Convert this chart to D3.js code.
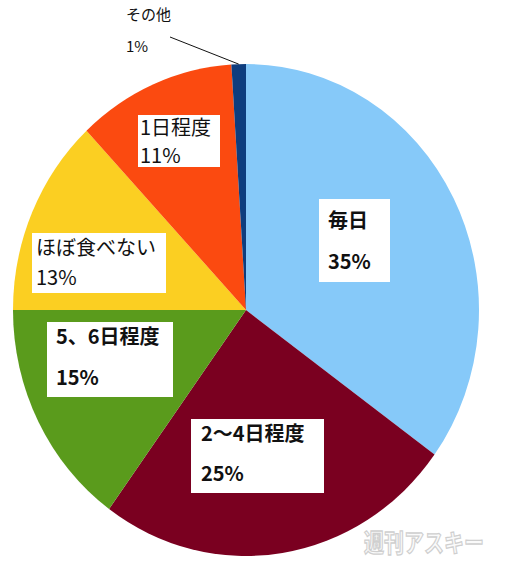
<!DOCTYPE html>
<html><head><meta charset="utf-8">
<script src="https://cdn.jsdelivr.net/npm/d3@7"></script>
<style>
html,body{margin:0;padding:0;background:#fff;}
svg{display:block;}
text{font-family:"Noto Sans CJK JP","Noto Sans",sans-serif;fill:#111;}
</style></head>
<body>
<script>
// ---- data ----
const categories = ["毎日", "2～4日程度", "5、6日程度", "ほぼ食べない", "1日程度", "その他"];
const values = [35, 25, 15, 13, 11, 1];
const pctLabels = ["35%", "25%", "15%", "13%", "11%", "1%"];
const colors = ["#86C9F9", "#7A0020", "#5A9B1C", "#FBCF22", "#FB4A10", "#0E3D7E"];

// ---- layout (label boxes: x, y, w, h, text x, baseline1, baseline2, bold) ----
const W = 508, H = 576;
const cx = 246, cy = 310, rx = 233, ry = 246;
const labelLayout = [
  {box:[319,199,71,83], tx:328, b1:228, b2:269, bold:true},
  {box:[191,419,133,74], tx:201, b1:441, b2:481, bold:true},
  {box:[47,322,126,75], tx:56, b1:344, b2:385, bold:true},
  {box:[32,233,134,60], tx:36, b1:255, b2:285, bold:false},
  {box:[138,115,82,52], tx:140, b1:135, b2:163, bold:false},
  {box:null, tx:126, b1:20, b2:52, bold:false, small:true}
];

const svg = d3.select("body").append("svg").attr("width", W).attr("height", H);

const pie = d3.pie().sort(null).value(d => d)(values);
const arc = d3.arc().innerRadius(0).outerRadius(ry);

const g = svg.append("g")
  .attr("transform", `translate(${cx},${cy}) scale(${rx/ry},1)`);
g.selectAll("path").data(pie).join("path")
  .attr("d", arc)
  .attr("fill", (d, i) => colors[i]);

// leader line for その他
const other = pie[5];
const midA = (other.startAngle + other.endAngle) / 2;
const px = cx + Math.sin(midA) * rx, py = cy - Math.cos(midA) * ry;
svg.append("line")
  .attr("x1", 170).attr("y1", 37)
  .attr("x2", px).attr("y2", py)
  .attr("stroke", "#111").attr("stroke-width", 1);

// labels
categories.forEach((c, i) => {
  const L = labelLayout[i];
  if (L.box) {
    svg.append("rect")
      .attr("x", L.box[0]).attr("y", L.box[1])
      .attr("width", L.box[2]).attr("height", L.box[3])
      .attr("fill", "#fff");
  }
  const fs = L.small ? 15 : 20;
  const fw = L.bold ? 700 : 400;
  svg.append("text").attr("x", L.tx).attr("y", L.b1)
    .attr("font-size", fs).attr("font-weight", fw).text(c);
  svg.append("text").attr("x", L.tx).attr("y", L.b2)
    .attr("font-size", fs).attr("font-weight", fw).text(pctLabels[i]);
});

// watermark
svg.append("text")
  .attr("transform", "translate(364,552) scale(1,1.25)")
  .attr("font-size", 20).attr("font-weight", 700)
  .style("fill", "#fafafa").style("stroke", "#cfcfcf").style("stroke-width", 1)
  .text("週刊アスキー");
</script>
</body></html>
